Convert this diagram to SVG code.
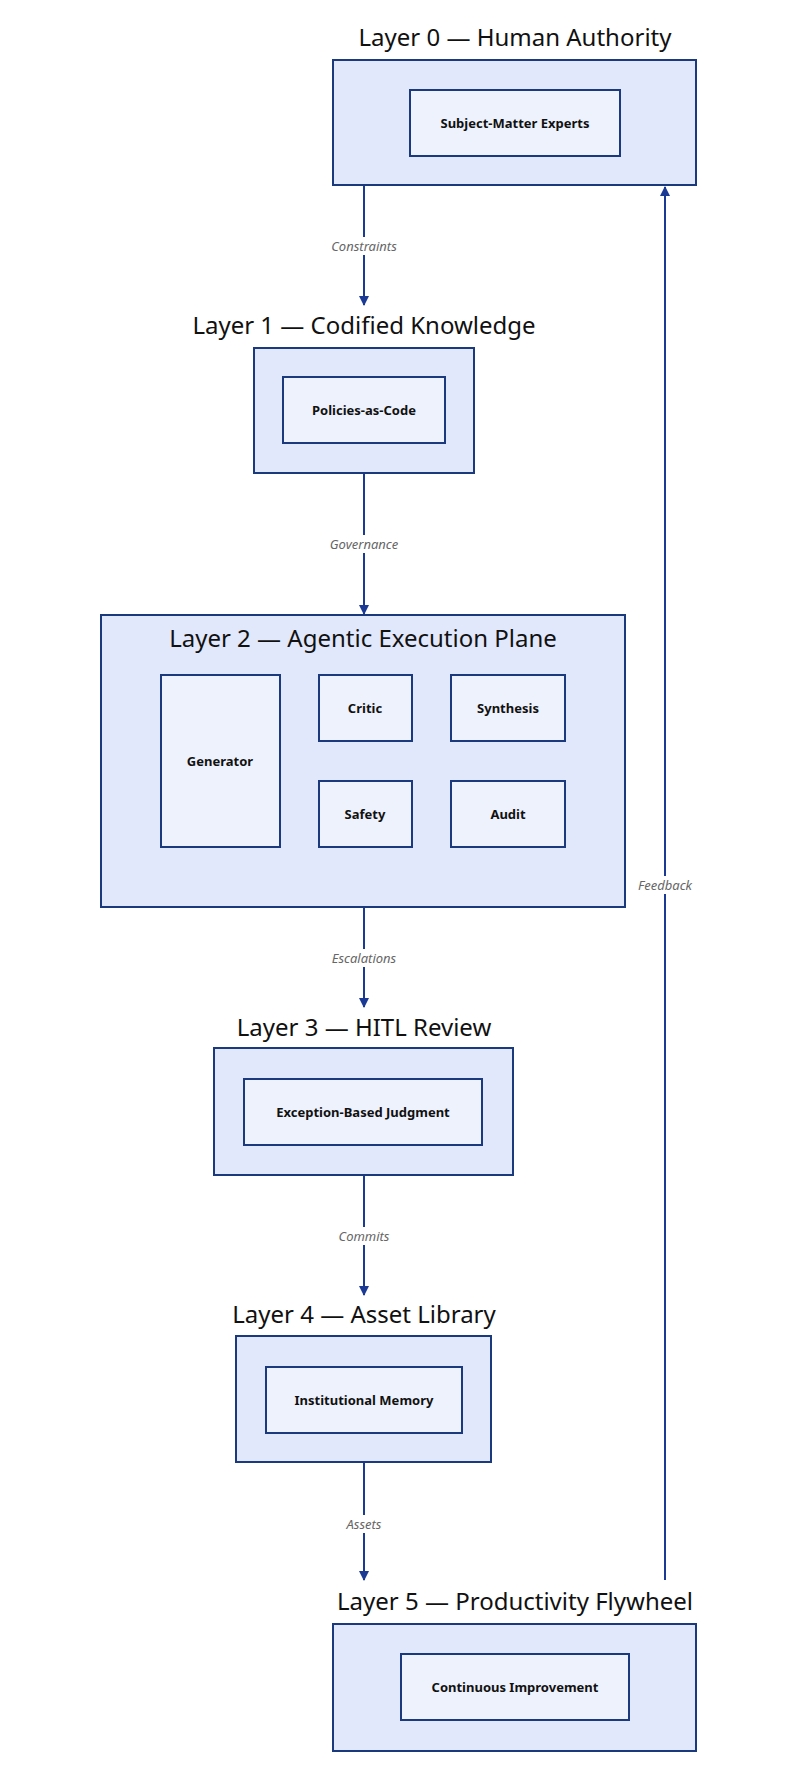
<svg xmlns="http://www.w3.org/2000/svg" width="797" height="1779" viewBox="0 0 797 1779">
<style>
.outer{fill:#e1e8fb;stroke:#1b3a7e;stroke-width:2}
.inner{fill:#eef2fd;stroke:#1b3a7e;stroke-width:2}
.title{font-family:"Noto Sans",sans-serif;font-size:24px;fill:#111;text-anchor:middle}
.lbl{font-family:"Noto Sans",sans-serif;font-size:13px;font-weight:bold;fill:#111;text-anchor:middle}
.el{font-family:"Noto Sans",sans-serif;font-size:13px;font-style:italic;fill:#666;text-anchor:middle}
.c{stroke:#1a3a94;stroke-width:2;fill:none;marker-end:url(#ah)}
</style>
<defs><marker id="ah" viewBox="0 0 10 10" refX="9" refY="5" markerWidth="5" markerHeight="5" orient="auto"><path d="M0,0L10,5L0,10z" fill="#1a3a94"/></marker></defs>
<rect width="797" height="1779" fill="#fff"/>
<g id="connectors">
<line class="c" x1="364" y1="186" x2="364" y2="305"/>
<line class="c" x1="364" y1="474" x2="364" y2="614"/>
<line class="c" x1="364" y1="908" x2="364" y2="1007"/>
<line class="c" x1="364" y1="1176" x2="364" y2="1295"/>
<line class="c" x1="364" y1="1463" x2="364" y2="1580"/>
<line class="c" x1="665" y1="1580" x2="665" y2="187"/>
<line class="c" x1="280" y1="739" x2="319" y2="725"/>
<line class="c" x1="365" y1="742" x2="365" y2="781"/>
<line class="c" x1="412" y1="781" x2="465" y2="742"/>
<line class="c" x1="508" y1="742" x2="508" y2="781"/>
<rect x="340" y="237" width="48" height="18" fill="#fff"/><text class="el" x="364" y="251">Constraints</text>
<rect x="334" y="535" width="60" height="18" fill="#fff"/><text class="el" x="364" y="549">Governance</text>
<rect x="334" y="949" width="60" height="18" fill="#fff"/><text class="el" x="364" y="963">Escalations</text>
<rect x="340" y="1227" width="48" height="18" fill="#fff"/><text class="el" x="364" y="1241">Commits</text>
<rect x="342" y="1515" width="44" height="18" fill="#fff"/><text class="el" x="364" y="1529">Assets</text>
<rect x="637" y="876" width="56" height="18" fill="#fff"/><text class="el" x="665" y="890">Feedback</text>
</g>
<g id="layer0"><text class="title" x="515" y="46">Layer 0 — Human Authority</text><rect class="outer" x="333" y="60" width="363" height="125"/></g>
<g id="sme"><rect class="inner" x="410" y="90" width="210" height="66"/><text class="lbl" x="515" y="128">Subject-Matter Experts</text></g>
<g id="layer1"><text class="title" x="364" y="334">Layer 1 — Codified Knowledge</text><rect class="outer" x="254" y="348" width="220" height="125"/></g>
<g id="pac"><rect class="inner" x="283" y="377" width="162" height="66"/><text class="lbl" x="364" y="415">Policies-as-Code</text></g>
<g id="layer2"><rect class="outer" x="101" y="615" width="524" height="292"/><text class="title" x="363" y="647">Layer 2 — Agentic Execution Plane</text></g>
<g id="generator"><rect class="inner" x="161" y="675" width="119" height="172"/><text class="lbl" x="220" y="766">Generator</text></g>
<g id="critic"><rect class="inner" x="319" y="675" width="93" height="66"/><text class="lbl" x="365" y="713">Critic</text></g>
<g id="synthesis"><rect class="inner" x="451" y="675" width="114" height="66"/><text class="lbl" x="508" y="713">Synthesis</text></g>
<g id="safety"><rect class="inner" x="319" y="781" width="93" height="66"/><text class="lbl" x="365" y="819">Safety</text></g>
<g id="audit"><rect class="inner" x="451" y="781" width="114" height="66"/><text class="lbl" x="508" y="819">Audit</text></g>
<g id="layer3"><text class="title" x="364" y="1036">Layer 3 — HITL Review</text><rect class="outer" x="214" y="1048" width="299" height="127"/></g>
<g id="ebj"><rect class="inner" x="244" y="1079" width="238" height="66"/><text class="lbl" x="363" y="1117">Exception-Based Judgment</text></g>
<g id="layer4"><text class="title" x="364" y="1323">Layer 4 — Asset Library</text><rect class="outer" x="236" y="1336" width="255" height="126"/></g>
<g id="im"><rect class="inner" x="266" y="1367" width="196" height="66"/><text class="lbl" x="364" y="1405">Institutional Memory</text></g>
<g id="layer5"><text class="title" x="515" y="1610">Layer 5 — Productivity Flywheel</text><rect class="outer" x="333" y="1624" width="363" height="127"/></g>
<g id="ci"><rect class="inner" x="401" y="1654" width="228" height="66"/><text class="lbl" x="515" y="1692">Continuous Improvement</text></g>
</svg>
